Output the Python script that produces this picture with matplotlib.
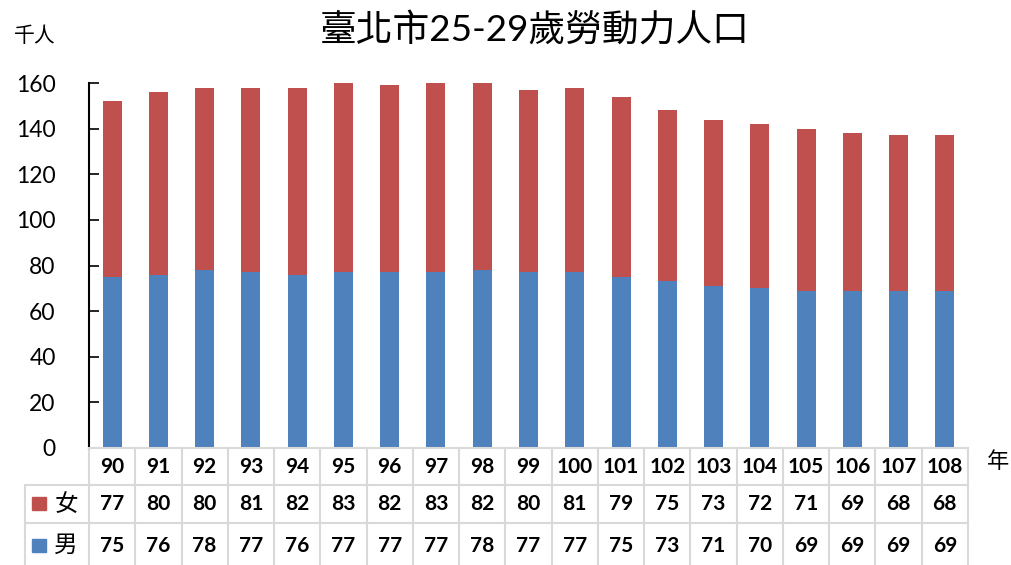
import numpy as np
import matplotlib.pyplot as plt
from matplotlib.lines import Line2D
from matplotlib.patches import Rectangle

plt.rcParams['font.family'] = ['Lato', 'Noto Sans CJK TC', 'DejaVu Sans']

years = ['90', '91', '92', '93', '94', '95', '96', '97', '98', '99',
         '100', '101', '102', '103', '104', '105', '106', '107', '108']
female = [77, 80, 80, 81, 82, 83, 82, 83, 82, 80, 81, 79, 75, 73, 72, 71, 69, 68, 68]
male = [75, 76, 78, 77, 76, 77, 77, 77, 78, 77, 77, 75, 73, 71, 70, 69, 69, 69, 69]

red = '#C0504D'
blue = '#4F81BD'
grid_c = '#D9D9D9'

fig = plt.figure(figsize=(10.11, 5.65), dpi=100, facecolor='white')
ax = fig.add_axes([89 / 1011, 1 - 448 / 565, (968 - 89) / 1011, (448 - 83) / 565])

x = np.arange(len(years))
ax.bar(x, male, width=0.41, color=blue)
ax.bar(x, female, width=0.41, bottom=male, color=red)

ax.set_xlim(-0.5, len(years) - 0.5)
ax.set_ylim(0, 160)
ax.set_yticks(range(0, 161, 20))
ax.tick_params(axis='y', direction='in', length=7, width=1.2, labelsize=16.5, pad=24)
ax.set_xticks([])
for s in ['top', 'right']:
    ax.spines[s].set_visible(False)
ax.spines['left'].set_linewidth(1.5)
ax.spines['bottom'].set_color(grid_c)
ax.spines['bottom'].set_linewidth(1.5)

# data table under the axis
tr = ax.get_xaxis_transform()
rows_y = [0, -0.101, -0.205, -0.32]
left_x = -0.5 - 64 / (880 / 19)
right_x = len(years) - 0.5

ax.add_line(Line2D([left_x, right_x], [rows_y[1]] * 2, transform=tr, color=grid_c, lw=1.5, clip_on=False))
ax.add_line(Line2D([left_x, right_x], [rows_y[2]] * 2, transform=tr, color=grid_c, lw=1.5, clip_on=False))
ax.add_line(Line2D([left_x, left_x], [rows_y[1], rows_y[3]], transform=tr, color=grid_c, lw=1.5, clip_on=False))
for b in np.arange(len(years) + 1) - 0.5:
    ax.add_line(Line2D([b, b], [rows_y[0], rows_y[3]], transform=tr, color=grid_c, lw=1.5, clip_on=False))

for i in range(len(years)):
    ax.text(i, -0.052, years[i], transform=tr, ha='center', va='center',
            fontsize=15, fontweight='bold')
    ax.text(i, -0.153, str(female[i]), transform=tr, ha='center', va='center',
            fontsize=15, fontweight='bold')
    ax.text(i, -0.268, str(male[i]), transform=tr, ha='center', va='center',
            fontsize=15, fontweight='bold')

# legend keys in table
for yc, col, lab in [(-0.153, red, '女'), (-0.268, blue, '男')]:
    ax.add_patch(Rectangle((-0.5 - 57 / 46.3, yc - 0.018), 14 / 46.3, 0.038,
                           transform=tr, color=col, clip_on=False))
    ax.text(-0.5 - 23 / 46.3, yc, lab, transform=tr, ha='center', va='center', fontsize=17)

fig.text(535 / 1011, 1 - 29 / 565, '臺北市25-29歲勞動力人口', ha='center', va='center', fontsize=26.5)
fig.text(35 / 1011, 1 - 36 / 565, '千人', ha='center', va='center', fontsize=15)
fig.text(998 / 1011, 1 - 462 / 565, '年', ha='center', va='center', fontsize=16)

fig.savefig('out.png', dpi=100, facecolor='white')
